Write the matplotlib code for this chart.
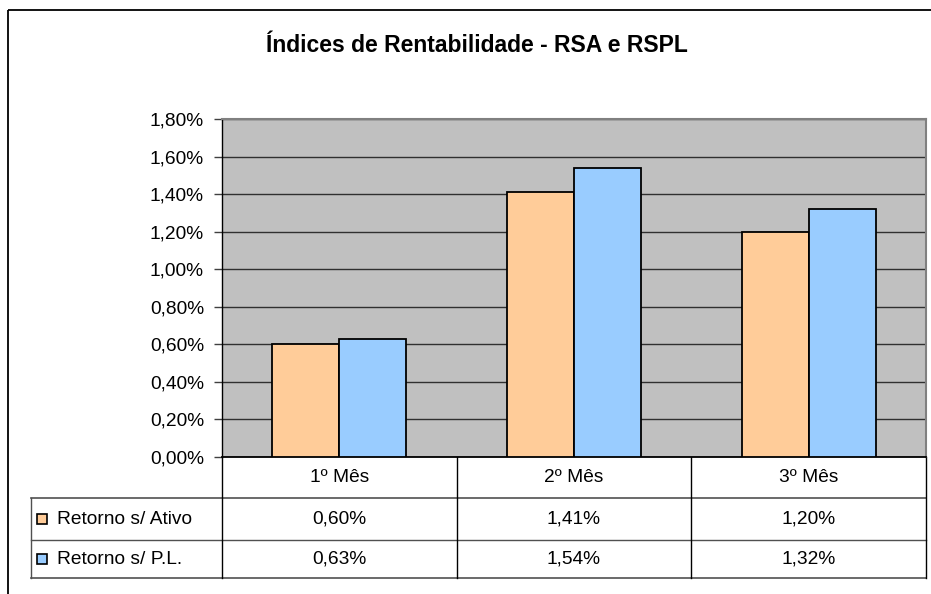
import matplotlib
matplotlib.use("Agg")
import matplotlib.pyplot as plt
from matplotlib.patches import Rectangle
import numpy as np

plt.rcParams['font.family'] = ['Liberation Sans', 'DejaVu Sans']

# data
categories = ["1º Mês", "2º Mês", "3º Mês"]
series_names = ["Retorno s/ Ativo", "Retorno s/ P.L."]
rsa = [0.60, 1.41, 1.20]
rspl = [0.63, 1.54, 1.32]
colors = ["#FFCC99", "#99CCFF"]
yticks = [0.0, 0.2, 0.4, 0.6, 0.8, 1.0, 1.2, 1.4, 1.6, 1.8]

W, H = 931, 594
fs = 13.8
fig = plt.figure(figsize=(W / 100, H / 100), dpi=100)

def fx(px):
    return px / W

def fy(py):
    return 1 - py / H

def pct(v):
    return ("%.2f%%" % v).replace(".", ",")

# overlay axes in pixel coords for borders / table
ov = fig.add_axes([0, 0, 1, 1], zorder=0)
ov.set_xlim(0, W)
ov.set_ylim(H, 0)
ov.axis("off")
ov.add_patch(Rectangle((8, 10), 940, 600, fill=False, ec="black", lw=1.3))

# bar axes
x0, x1, y0, y1 = 222, 926, 119, 457
ax = fig.add_axes([fx(x0), fy(y1), fx(x1) - fx(x0), fy(y0) - fy(y1)], zorder=1)
ax.set_facecolor("#C0C0C0")
x = np.arange(len(categories))
bw = 0.285
ax.bar(x - bw / 2, rsa, bw, color=colors[0], edgecolor="black", lw=1.3, zorder=3)
ax.bar(x + bw / 2, rspl, bw, color=colors[1], edgecolor="black", lw=1.3, zorder=3)
ax.set_xlim(-0.5, len(categories) - 0.5)
ax.set_ylim(0, 1.8)
ax.set_yticks(yticks)
ax.set_yticklabels([pct(v) for v in yticks], fontsize=fs)
ax.yaxis.grid(True, color="#303030", lw=1)
ax.set_axisbelow(True)
ax.set_xticks([])
ax.tick_params(axis="y", length=6, width=1, color="#404040", pad=7)
for s in ["top", "right"]:
    ax.spines[s].set_color("#808080")
    ax.spines[s].set_linewidth(1.5)
ax.spines["left"].set_color("black")
ax.spines["left"].set_linewidth(1)
ax.spines["bottom"].set_color("black")
ax.spines["bottom"].set_linewidth(1.3)

# title
fig.text(fx(477), fy(46), "Índices de Rentabilidade - RSA e RSPL",
         ha="center", va="center", fontsize=16.5, fontweight="bold")

# table, columns lined up with the categories
fig.canvas.draw()
edges = [ax.transData.transform((e, 0))[0] for e in np.arange(len(categories) + 1) - 0.5]
row_y = [457, 498, 540, 578]
leg_x = 31
lc = "#505050"
ov.plot([leg_x, edges[-1]], [row_y[1]] * 2, color=lc, lw=1.2)
ov.plot([leg_x, edges[-1]], [row_y[2]] * 2, color=lc, lw=1)
ov.plot([leg_x, edges[-1]], [row_y[3]] * 2, color=lc, lw=1.2)
for e in edges:
    ov.plot([e, e], [row_y[0], row_y[3]], color="black", lw=1)
ov.plot([leg_x, leg_x], [row_y[1], row_y[3]], color=lc, lw=1)

for i, c in enumerate(categories):
    cx = (edges[i] + edges[i + 1]) / 2
    ov.text(cx, (row_y[0] + row_y[1]) / 2, c, ha="center", va="center", fontsize=fs)
    for r, vals in enumerate([rsa, rspl]):
        ov.text(cx, (row_y[r + 1] + row_y[r + 2]) / 2, pct(vals[i]),
                ha="center", va="center", fontsize=fs)

for r, name in enumerate(series_names):
    cy = (row_y[r + 1] + row_y[r + 2]) / 2
    ov.add_patch(Rectangle((37, cy - 5), 10, 10, fc=colors[r], ec="black", lw=1.2))
    ov.text(57, cy, name, ha="left", va="center", fontsize=fs)

fig.savefig("out.png", dpi=100)
